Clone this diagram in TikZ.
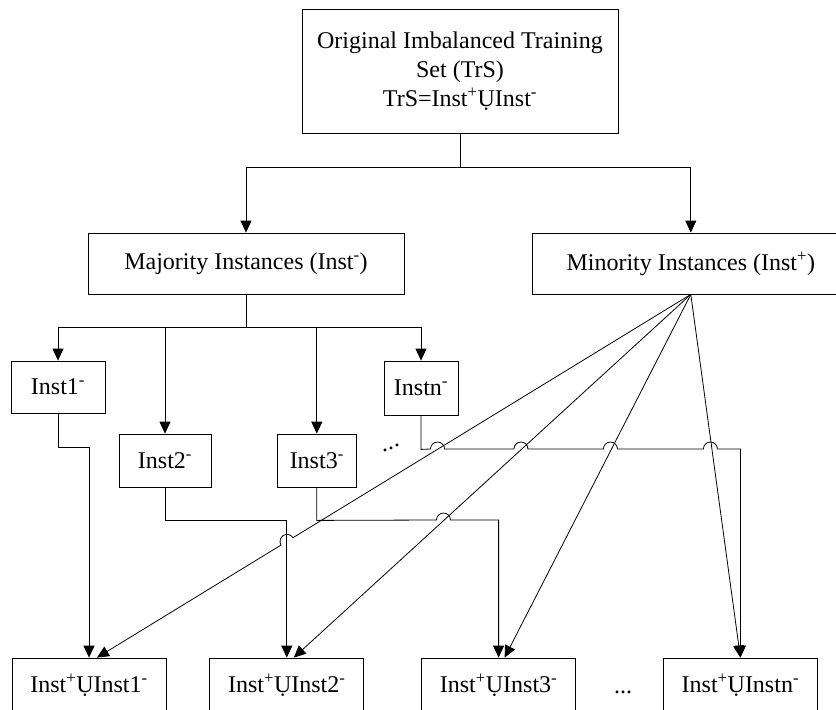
\documentclass[tikz,border=0pt]{standalone}
\usepackage{fontspec}
\setmainfont{Liberation Serif}
\usetikzlibrary{arrows.meta,positioning}
\tikzset{
  box/.style={draw, line width=0.8pt, inner sep=0pt, align=center},
  link/.style={line width=0.8pt},
  arr/.style={link, -{Triangle[length=12pt,width=11pt]}},
}
\newcommand{\spos}{\textsuperscript{+}}
\newcommand{\sneg}{\textsuperscript{-}}

\begin{document}
\begin{tikzpicture}[x=1pt, y=1pt, every node/.style={font=\fontsize{24}{29}\selectfont}]
  \useasboundingbox (0,0) rectangle (836,-710);
  \clip (0,0) rectangle (836,-710);

  % training set and its two classes
  \node[box, minimum width=316pt, minimum height=124pt] (trs) at (460,-71) {Original Imbalanced Training\\Set (TrS)\\TrS=Inst\spos ỤInst\sneg};
  \node[box, minimum width=316pt, minimum height=61pt] (maj) at (246,-263.5) {Majority Instances (Inst\sneg)};
  \node[box, minimum width=316pt, minimum height=61pt, right=128pt of maj] (mino) {Minority Instances (Inst\spos)};

  % parts of the majority class
  \node[box, minimum width=94pt, minimum height=52pt] (inst1) at (58,-387) {Inst1\sneg};
  \node[box, minimum width=92pt, minimum height=53pt] (inst2) at (165,-460.5) {Inst2\sneg};
  \node[box, minimum width=79pt, minimum height=53pt, right=65.5pt of inst2] (inst3) {Inst3\sneg};
  \node[box, minimum width=74pt, minimum height=54pt] (instn) at (421,-388) {Instn\sneg};
  \node[inner sep=0pt] (dotsa) at (391,-448) {.\raisebox{2.5pt}{.}\raisebox{5pt}{.}};

  % balanced sets
  \node[box, minimum width=154pt, minimum height=54pt] (out1) at (89,-685) {Inst\spos ỤInst1\sneg};
  \node[box, minimum width=154pt, minimum height=54pt, right=43pt of out1] (out2) {Inst\spos ỤInst2\sneg};
  \node[box, minimum width=154pt, minimum height=54pt, right=57pt of out2] (out3) {Inst\spos ỤInst3\sneg};
  \node[box, minimum width=154pt, minimum height=54pt, right=87pt of out3] (out4) {Inst\spos ỤInstn\sneg};
  \node (dotsb) at (623,-692) {...};

  \draw[arr] (trs.south) -- ++(0,-34) -| (maj.north);
  \draw[arr] (trs.south) -- ++(0,-34) -| (mino.north);

  \draw[arr] (maj.south) -- ++(0,-33) -| (inst1.north);
  \draw[arr] (maj.south) -- ++(0,-33) -| (inst2.north);
  \draw[arr] (maj.south) -- ++(0,-33) -| (inst3.north);
  \draw[arr] (maj.south) -- ++(0,-33) -| (instn.north);

  % majority parts down to the balanced sets (with line jumps)
  \draw[arr] (inst1.south) -- ++(0,-34) -| (out1.north);
  \draw[arr] (inst2.south) -- ++(0,-33) -| (out2.north);
  \draw[arr] (inst3.south) -- ++(0,-33) -- (436.5,-520)
    arc[start angle=180, end angle=0, radius=7] -| (out3.north);
  \draw[arr] (instn.south) -- ++(0,-34) -- (430.5,-449)
    arc[start angle=180, end angle=0, radius=7] -- (513.95,-449)
    arc[start angle=180, end angle=0, radius=7] -- (603.4,-449)
    arc[start angle=180, end angle=0, radius=7] -- (703.4,-449)
    arc[start angle=180, end angle=0, radius=7] -| (out4.north);

  % minority class copied into every set
  \draw[arr] (mino.south) -- (292.97,-537.71)
    arc[start angle=31.54, end angle=211.54, radius=7] -- ([xshift=8pt]out1.north);
  \draw[arr] (mino.south) -- ([xshift=7pt]out2.north);
  \draw[arr] (mino.south) -- ([xshift=6pt]out3.north);
  \draw[arr] (mino.south) -- (out4.north);
\end{tikzpicture}
\end{document}
